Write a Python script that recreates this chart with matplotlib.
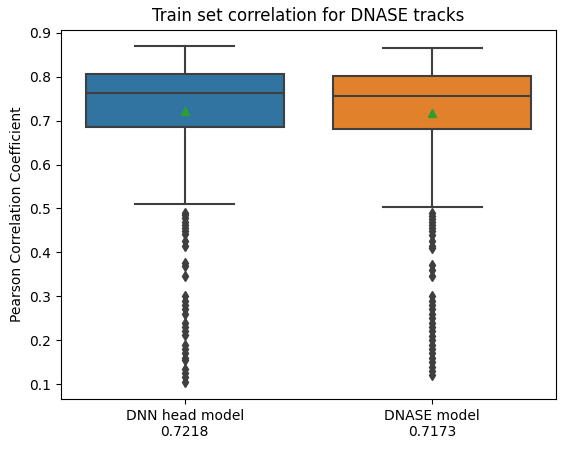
import matplotlib
matplotlib.use("Agg")
import matplotlib.pyplot as plt

# box statistics
models = ["DNN head model", "DNASE model"]
means = [0.7218, 0.7173]
q1 = [0.685, 0.682]
medians = [0.762, 0.757]
q3 = [0.806, 0.802]
whisker_low = [0.509, 0.504]
whisker_high = [0.871, 0.866]

dnn_fliers = [0.490, 0.485, 0.478, 0.470, 0.462, 0.455, 0.448, 0.442, 0.425,
              0.415, 0.375, 0.370, 0.347, 0.300, 0.290, 0.280, 0.270, 0.260,
              0.240, 0.230, 0.220, 0.212, 0.190, 0.180, 0.170, 0.160, 0.155,
              0.135, 0.125, 0.115, 0.105]
dnase_fliers = [0.490, 0.483, 0.476, 0.470, 0.462, 0.455, 0.448, 0.440, 0.425,
                0.415, 0.410, 0.372, 0.360, 0.345, 0.300, 0.290, 0.280, 0.270,
                0.260, 0.250, 0.240, 0.230, 0.220, 0.210, 0.200, 0.190, 0.180,
                0.170, 0.160, 0.150, 0.140, 0.130, 0.120]
fliers = [dnn_fliers, dnase_fliers]

box_colors = ["#3274a1", "#e1812c"]
line_gray = "#3f3f3f"

stats = []
for i in range(len(models)):
    stats.append({
        "label": f"{models[i]}\n{means[i]:.4f}",
        "mean": means[i],
        "q1": q1[i],
        "med": medians[i],
        "q3": q3[i],
        "whislo": whisker_low[i],
        "whishi": whisker_high[i],
        "fliers": fliers[i],
    })

fig = plt.figure(figsize=(5.67, 4.49), dpi=100)
ax = fig.add_axes([61 / 567, 50 / 449, 495 / 567, 369.5 / 449])

parts = ax.bxp(stats, positions=range(len(models)), widths=0.8,
               showmeans=True, patch_artist=True,
               boxprops=dict(edgecolor=line_gray, linewidth=1.5),
               medianprops=dict(color=line_gray, linewidth=1.5),
               whiskerprops=dict(color=line_gray, linewidth=1.5),
               capprops=dict(color=line_gray, linewidth=1.5),
               flierprops=dict(marker="d", markerfacecolor=line_gray,
                               markeredgecolor=line_gray, markersize=5),
               meanprops=dict(marker="^", markerfacecolor="#2ca02c",
                              markeredgecolor="#2ca02c", markersize=6))
for patch, c in zip(parts["boxes"], box_colors):
    patch.set_facecolor(c)

ax.set_xlim(-0.5, 1.5)
ax.set_ylim(0.066, 0.9075)
ax.set_yticks([0.1, 0.2, 0.3, 0.4, 0.5, 0.6, 0.7, 0.8, 0.9])
ax.set_ylabel("Pearson Correlation Coefficient")
ax.set_title("Train set correlation for DNASE tracks")

fig.savefig("out.png", dpi=100)
